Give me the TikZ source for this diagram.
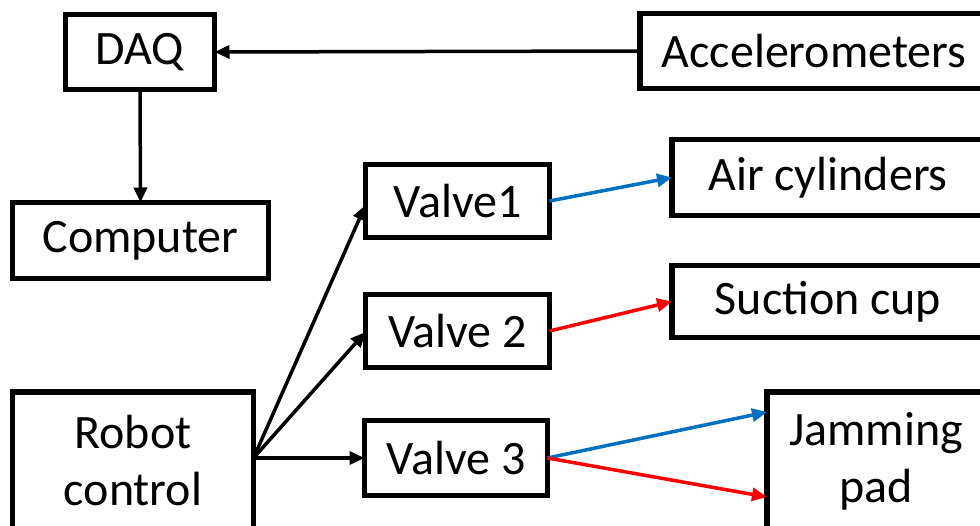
\documentclass[tikz,border=0pt]{standalone}
\usepackage{fontspec}
\setmainfont{Carlito}
\usetikzlibrary{arrows.meta}
\definecolor{arrblue}{RGB}{0,112,192}
\definecolor{arrred}{RGB}{255,0,0}
\begin{document}
\begin{tikzpicture}[x=1pt,y=-1pt,
  box/.style={draw=black,line width=5.5pt,fill=white,rectangle,inner sep=0pt,outer sep=0pt,
    font=\fontsize{48}{57}\selectfont,align=center},
  conn/.style={line width=3.5pt,-{Triangle[length=15pt,width=13pt]}},
  bconn/.style={conn,draw=arrblue,-{Triangle[length=15pt,width=13pt,fill=arrblue]}},
  rconn/.style={conn,draw=arrred,-{Triangle[length=15pt,width=13pt,fill=arrred]}}]
\useasboundingbox (0,0) rectangle (980,526);
\clip (0,0) rectangle (980,526);
\fill[white] (0,0) rectangle (980,526);
% boxes
\node[box,minimum width=149pt,minimum height=75pt] (daq) at (140,52) {DAQ};
\node[box,minimum width=256pt,minimum height=76pt] (comp) at (140.5,240.5) {Computer};
\node[box,minimum width=348pt,minimum height=75pt] (acc) at (814,51) {Accelerometers};
\node[box,minimum width=312pt,minimum height=76pt] (air) at (828,177.5) {Air cylinders};
\node[box,minimum width=312pt,minimum height=72pt] (suc) at (828,301.5) {Suction cup};
\node[box,minimum width=184pt,minimum height=73pt] (v1) at (457.5,201) {Valve1};
\node[box,minimum width=184pt,minimum height=73pt] (v2) at (457.5,331) {Valve 2};
\node[box,minimum width=183pt,minimum height=75pt] (v3) at (456,458) {Valve 3};
\node[box,minimum width=241pt,minimum height=138pt] (rc) at (133,461) {Robot\\control};
\node[box,minimum width=218pt,minimum height=138pt] (jam) at (876,461) {Jamming\\pad};
% connectors
\draw[conn] (acc.west) -- (daq.east);
\draw[conn] (daq.south) -- (comp.north);
\coordinate (rco) at ([yshift=3pt]rc.east);
\draw[conn] (rco) -- ([yshift=-4pt]v1.west);
\draw[conn] (rco) -- ([yshift=-1pt]v2.west);
\draw[conn] (rco) -- (v3.west);
\draw[bconn] (v1.east) -- (air.west);
\draw[rconn] (v2.east) -- (suc.west);
\draw[bconn] (v3.east) -- ([yshift=49pt]jam.west);
\draw[rconn] (v3.east) -- ([yshift=-36pt]jam.west);
\end{tikzpicture}
\end{document}
